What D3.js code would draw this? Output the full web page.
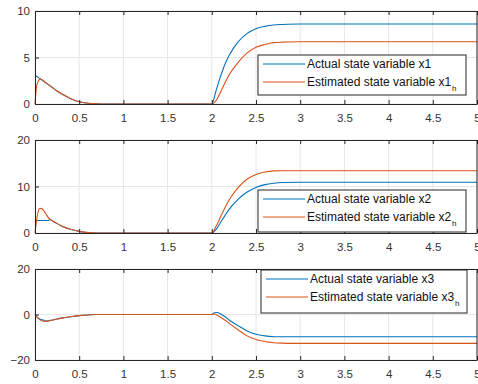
<!DOCTYPE html>
<html>
<head>
<meta charset="utf-8">
<script src="https://cdn.jsdelivr.net/npm/d3@7"></script>
<style>
  body { margin: 0; background: #fff; }
  svg { display: block; font-family: "Liberation Sans", Arial, sans-serif; }
</style>
</head>
<body>
<svg id="chart" width="478" height="384"></svg>
<script>
// values, [t, value]
var x1Actual = [[0,3.1],[0.03,2.9],[0.06,2.7],[0.1,2.45],[0.15,2.1],[0.2,1.75],[0.25,1.4],[0.3,1.1],[0.4,0.6],[0.5,0.25],[0.6,0.08],[0.7,0.02],[0.8,0],[1.5,0],
  [2.0,0],[2.05,1.5],[2.1,3.0],[2.15,4.3],[2.2,5.3],[2.3,6.7],[2.4,7.6],[2.5,8.1],[2.6,8.35],[2.7,8.5],[2.8,8.55],[3.0,8.6],[5.0,8.6]];
var x1Est = [[0,0],[0.01,1.2],[0.02,2.0],[0.04,2.5],[0.06,2.7],[0.1,2.45],[0.15,2.1],[0.2,1.75],[0.25,1.4],[0.3,1.1],[0.4,0.6],[0.5,0.25],[0.6,0.08],[0.7,0.02],[0.8,0],[1.5,0],
  [2.0,0],[2.05,0.4],[2.1,1.3],[2.15,2.3],[2.2,3.2],[2.3,4.5],[2.4,5.5],[2.5,6.1],[2.6,6.4],[2.7,6.6],[2.8,6.65],[3.0,6.7],[5.0,6.7]];

var x2Actual = [[0,2.7],[0.15,2.7],[0.17,2.9],[0.2,2.6],[0.3,1.5],[0.4,0.8],[0.5,0.35],[0.6,0.1],[0.7,0],[1.5,0],
  [2.0,0],[2.05,0.8],[2.1,2.3],[2.15,3.8],[2.2,5.2],[2.3,7.3],[2.4,8.8],[2.5,9.8],[2.6,10.4],[2.7,10.7],[2.8,10.85],[3.0,10.9],[5.0,10.9]];
var x2Est = [[0,0],[0.02,3.0],[0.05,5.2],[0.07,5.3],[0.1,4.8],[0.12,4.2],[0.17,2.9],[0.2,2.6],[0.3,1.5],[0.4,0.8],[0.5,0.35],[0.6,0.1],[0.7,0],[1.5,0],
  [2.0,0],[2.05,1.5],[2.1,3.5],[2.15,5.5],[2.2,7.2],[2.3,9.8],[2.4,11.6],[2.5,12.6],[2.6,13.1],[2.7,13.35],[2.8,13.4],[5.0,13.4]];

var x3Actual = [[0,0],[0.03,-1.4],[0.06,-2.1],[0.1,-2.5],[0.12,-2.9],[0.2,-2.4],[0.3,-1.6],[0.4,-1.0],[0.5,-0.5],[0.6,-0.2],[0.7,0],[1.5,0],
  [2.0,0],[2.03,0.8],[2.06,0.9],[2.1,0.2],[2.15,-1.0],[2.2,-2.5],[2.3,-5.0],[2.4,-7.2],[2.5,-8.7],[2.6,-9.4],[2.7,-9.75],[2.8,-9.8],[5.0,-9.8]];
var x3Est = [[0,0],[0.03,-1.5],[0.07,-2.6],[0.12,-3.0],[0.2,-2.4],[0.3,-1.6],[0.4,-1.0],[0.5,-0.5],[0.6,-0.2],[0.7,0],[1.5,0],
  [2.0,0],[2.03,0.2],[2.06,-0.3],[2.1,-1.2],[2.15,-2.5],[2.2,-4.0],[2.3,-6.8],[2.4,-9.4],[2.5,-11.0],[2.6,-11.9],[2.7,-12.4],[2.8,-12.6],[2.9,-12.7],[5.0,-12.7]];

var xTicks = [0, 0.5, 1, 1.5, 2, 2.5, 3, 3.5, 4, 4.5, 5];
var yTicks1 = [0, 5, 10];
var yTicks2 = [0, 10, 20];
var yTicks3 = [-20, 0, 20];
var legendNames = ["Actual state variable x", "Estimated state variable x"];

var blue = "#0072BD", orange = "#D95319";
var axisColor = "#262626", gridColor = "#e6e6e6";

var left = 35, right = 477;
var svg = d3.select("#chart");

var x = d3.scaleLinear().domain([0, 5]).range([left, right]);

var panels = [
  {top: 11, bottom: 104, domain: [0, 10], ticks: yTicks1, actual: x1Actual, est: x1Est, idx: "1", leg: {x: 258, y: 55, w: 208, h: 40}},
  {top: 140, bottom: 233, domain: [0, 20], ticks: yTicks2, actual: x2Actual, est: x2Est, idx: "2", leg: {x: 258, y: 190, w: 208, h: 42}},
  {top: 269, bottom: 360, domain: [-20, 20], ticks: yTicks3, actual: x3Actual, est: x3Est, idx: "3", leg: {x: 261, y: 270, w: 206, h: 43}}
];

panels.forEach(function(p) {
  var y = d3.scaleLinear().domain(p.domain).range([p.bottom, p.top]);
  var g = svg.append("g");

  // grid
  g.selectAll(".vg").data(xTicks).enter().append("line")
    .attr("x1", d => x(d)).attr("x2", d => x(d))
    .attr("y1", p.top).attr("y2", p.bottom)
    .attr("stroke", gridColor).attr("stroke-width", 1);
  g.selectAll(".hg").data(p.ticks).enter().append("line")
    .attr("x1", left).attr("x2", right)
    .attr("y1", d => y(d)).attr("y2", d => y(d))
    .attr("stroke", gridColor).attr("stroke-width", 1);

  var line = d3.line()
    .x(d => x(d[0]))
    .y(d => y(d[1]))
    .curve(d3.curveMonotoneX);

  g.append("path").datum(p.actual)
    .attr("fill", "none").attr("stroke", blue).attr("stroke-width", 1.1)
    .attr("d", line);
  g.append("path").datum(p.est)
    .attr("fill", "none").attr("stroke", orange).attr("stroke-width", 1.1)
    .attr("d", line);

  // axes, ticks pointing in like matlab
  var xb = g.append("g").attr("transform", "translate(0," + p.bottom + ")")
    .call(d3.axisBottom(x).tickValues(xTicks).tickSizeInner(-4).tickSizeOuter(0).tickPadding(10).tickFormat(d3.format("")));
  var xt = g.append("g").attr("transform", "translate(0," + p.top + ")")
    .call(d3.axisTop(x).tickValues(xTicks).tickSizeInner(-4).tickSizeOuter(0).tickFormat(""));
  var yl = g.append("g").attr("transform", "translate(" + left + ",0)")
    .call(d3.axisLeft(y).tickValues(p.ticks).tickSizeInner(-4).tickSizeOuter(0).tickPadding(5));
  [xb, xt, yl].forEach(function(a) {
    a.select(".domain").attr("stroke", axisColor);
    a.selectAll(".tick line").attr("stroke", axisColor);
    a.selectAll("text").attr("fill", "#333").style("font-size", "11.5px").style("font-family", "Liberation Sans, Arial, sans-serif");
  });
  g.append("line").attr("x1", right).attr("x2", right).attr("y1", p.top).attr("y2", p.bottom)
    .attr("stroke", axisColor);

  // legend
  var L = p.leg;
  var lg = g.append("g").attr("transform", "translate(" + L.x + "," + L.y + ")");
  lg.append("rect").attr("width", L.w).attr("height", L.h)
    .attr("fill", "#fff").attr("stroke", axisColor).attr("stroke-width", 1);
  [blue, orange].forEach(function(c, i) {
    var ry = 9 + i * 18;
    lg.append("line").attr("x1", 5).attr("x2", 47).attr("y1", ry).attr("y2", ry)
      .attr("stroke", c).attr("stroke-width", 1.1);
    var t = lg.append("text").attr("x", 49).attr("y", ry + 4)
      .attr("fill", "#111").style("font-size", "12px")
      .text(legendNames[i] + p.idx);
    if (i === 1) {
      t.append("tspan").attr("dy", 5).attr("dx", 1).style("font-size", "8px").text("h");
    }
  });
});
</script>
</body>
</html>
